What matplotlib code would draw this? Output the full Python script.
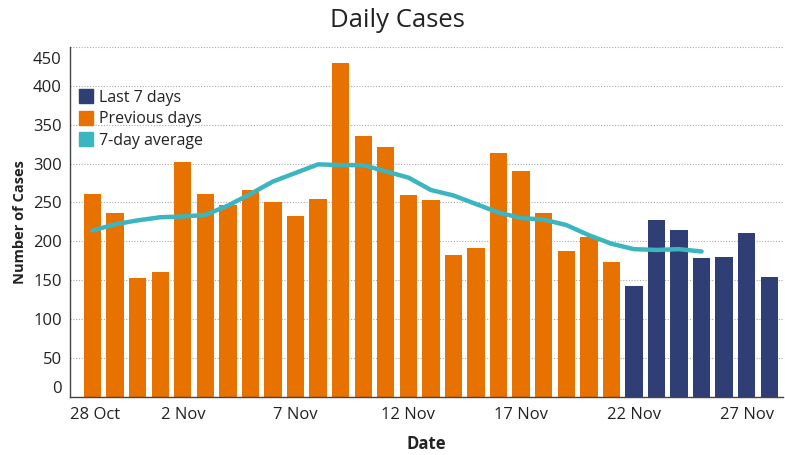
import matplotlib
matplotlib.use("Agg")
import matplotlib.pyplot as plt
import matplotlib.transforms as mtransforms
from matplotlib.lines import Line2D
import pandas as pd

# ---- data ----
dates = pd.date_range("2020-10-29", "2020-11-28", freq="D")
cases = [261, 237, 153, 160, 302, 261, 247, 266, 250, 233, 255, 429, 336, 321,
         260, 253, 182, 192, 313, 291, 236, 187, 205, 173,
         143, 227, 215, 179, 180, 211, 154]
n_last = 7
avg7 = [214, 222, 227, 231, 232, 234, 246, 261, 277, 288, 299, 298, 298, 290,
        282, 266, 259, 248, 237, 230, 228, 221, 208, 197, 190, 189, 190, 187]
tick_dates = ["2020-10-28", "2020-11-02", "2020-11-07", "2020-11-12",
              "2020-11-17", "2020-11-22", "2020-11-27"]
tick_labels = ["28 Oct", "2 Nov", "7 Nov", "12 Nov", "17 Nov", "22 Nov", "27 Nov"]
y_ticks = [0, 50, 100, 150, 200, 250, 300, 350, 400, 450]

ORANGE = "#E87200"
NAVY = "#2F3E74"
TEAL = "#3BB6C0"

plt.rcParams['font.family'] = ['Open Sans', 'DejaVu Sans']

fig = plt.figure(figsize=(7.85, 4.55), dpi=100)
ax = fig.add_axes([0.0892, 0.1275, 0.908, 0.7695])

start = pd.Timestamp("2020-10-29")
x = [(d - start).days for d in dates]
n = len(cases)
colors = [ORANGE] * (n - n_last) + [NAVY] * n_last
ax.bar(x, cases, width=0.77, color=colors, zorder=2)
ax.plot(x[:len(avg7)], avg7, color=TEAL, lw=3.2, zorder=3, solid_capstyle='round')

ax.set_xlim(-1, 30.6)
ax.set_ylim(0, 450)

tpos = [(pd.Timestamp(t) - start).days for t in tick_dates]
ax.set_xticks(tpos)
ax.set_xticklabels(tick_labels, fontsize=12, color="#222222")
ax.tick_params(axis='x', length=0, pad=7)
xl = ax.get_xticklabels()
xl[0].set_ha('left')

ax.set_yticks(y_ticks)
ax.set_yticklabels([str(v) for v in y_ticks], fontsize=12, color="#222222")
ax.tick_params(axis='y', length=0, pad=6)
yl = ax.get_yticklabels()
yl[0].set_transform(yl[0].get_transform() + mtransforms.ScaledTranslation(0, 10 / 100, fig.dpi_scale_trans))
yl[-1].set_transform(yl[-1].get_transform() + mtransforms.ScaledTranslation(0, -11 / 100, fig.dpi_scale_trans))

ax.grid(axis='y', linestyle=(0, (1, 1.5)), color="#aaaaaa", lw=0.8, zorder=0)
ax.set_axisbelow(True)
for s in ['top', 'right']:
    ax.spines[s].set_visible(False)
for s in ['left', 'bottom']:
    ax.spines[s].set_color("#444444")
    ax.spines[s].set_linewidth(1.0)

ax.set_ylabel("Number of Cases", fontsize=10.5, fontweight='bold', color="#222222", labelpad=4)
ax.set_xlabel("Date", fontsize=12, fontweight='bold', color="#222222", labelpad=9)
fig.text(0.506, 0.955, "Daily Cases", ha='center', va='center', fontsize=18.5, color="#222222")

handles = [Line2D([], [], marker='s', ls='', color=NAVY, markersize=10),
           Line2D([], [], marker='s', ls='', color=ORANGE, markersize=10),
           Line2D([], [], marker='s', ls='', color=TEAL, markersize=10)]
leg = ax.legend(handles, ["Last 7 days", "Previous days", "7-day average"],
                loc='upper left', bbox_to_anchor=(-0.007, 0.91), frameon=False,
                fontsize=11.5, handletextpad=0.2, handlelength=1.2, labelspacing=0.35,
                borderaxespad=0.3)
for t in leg.get_texts():
    t.set_color("#222222")

fig.savefig("out.png", dpi=100)
